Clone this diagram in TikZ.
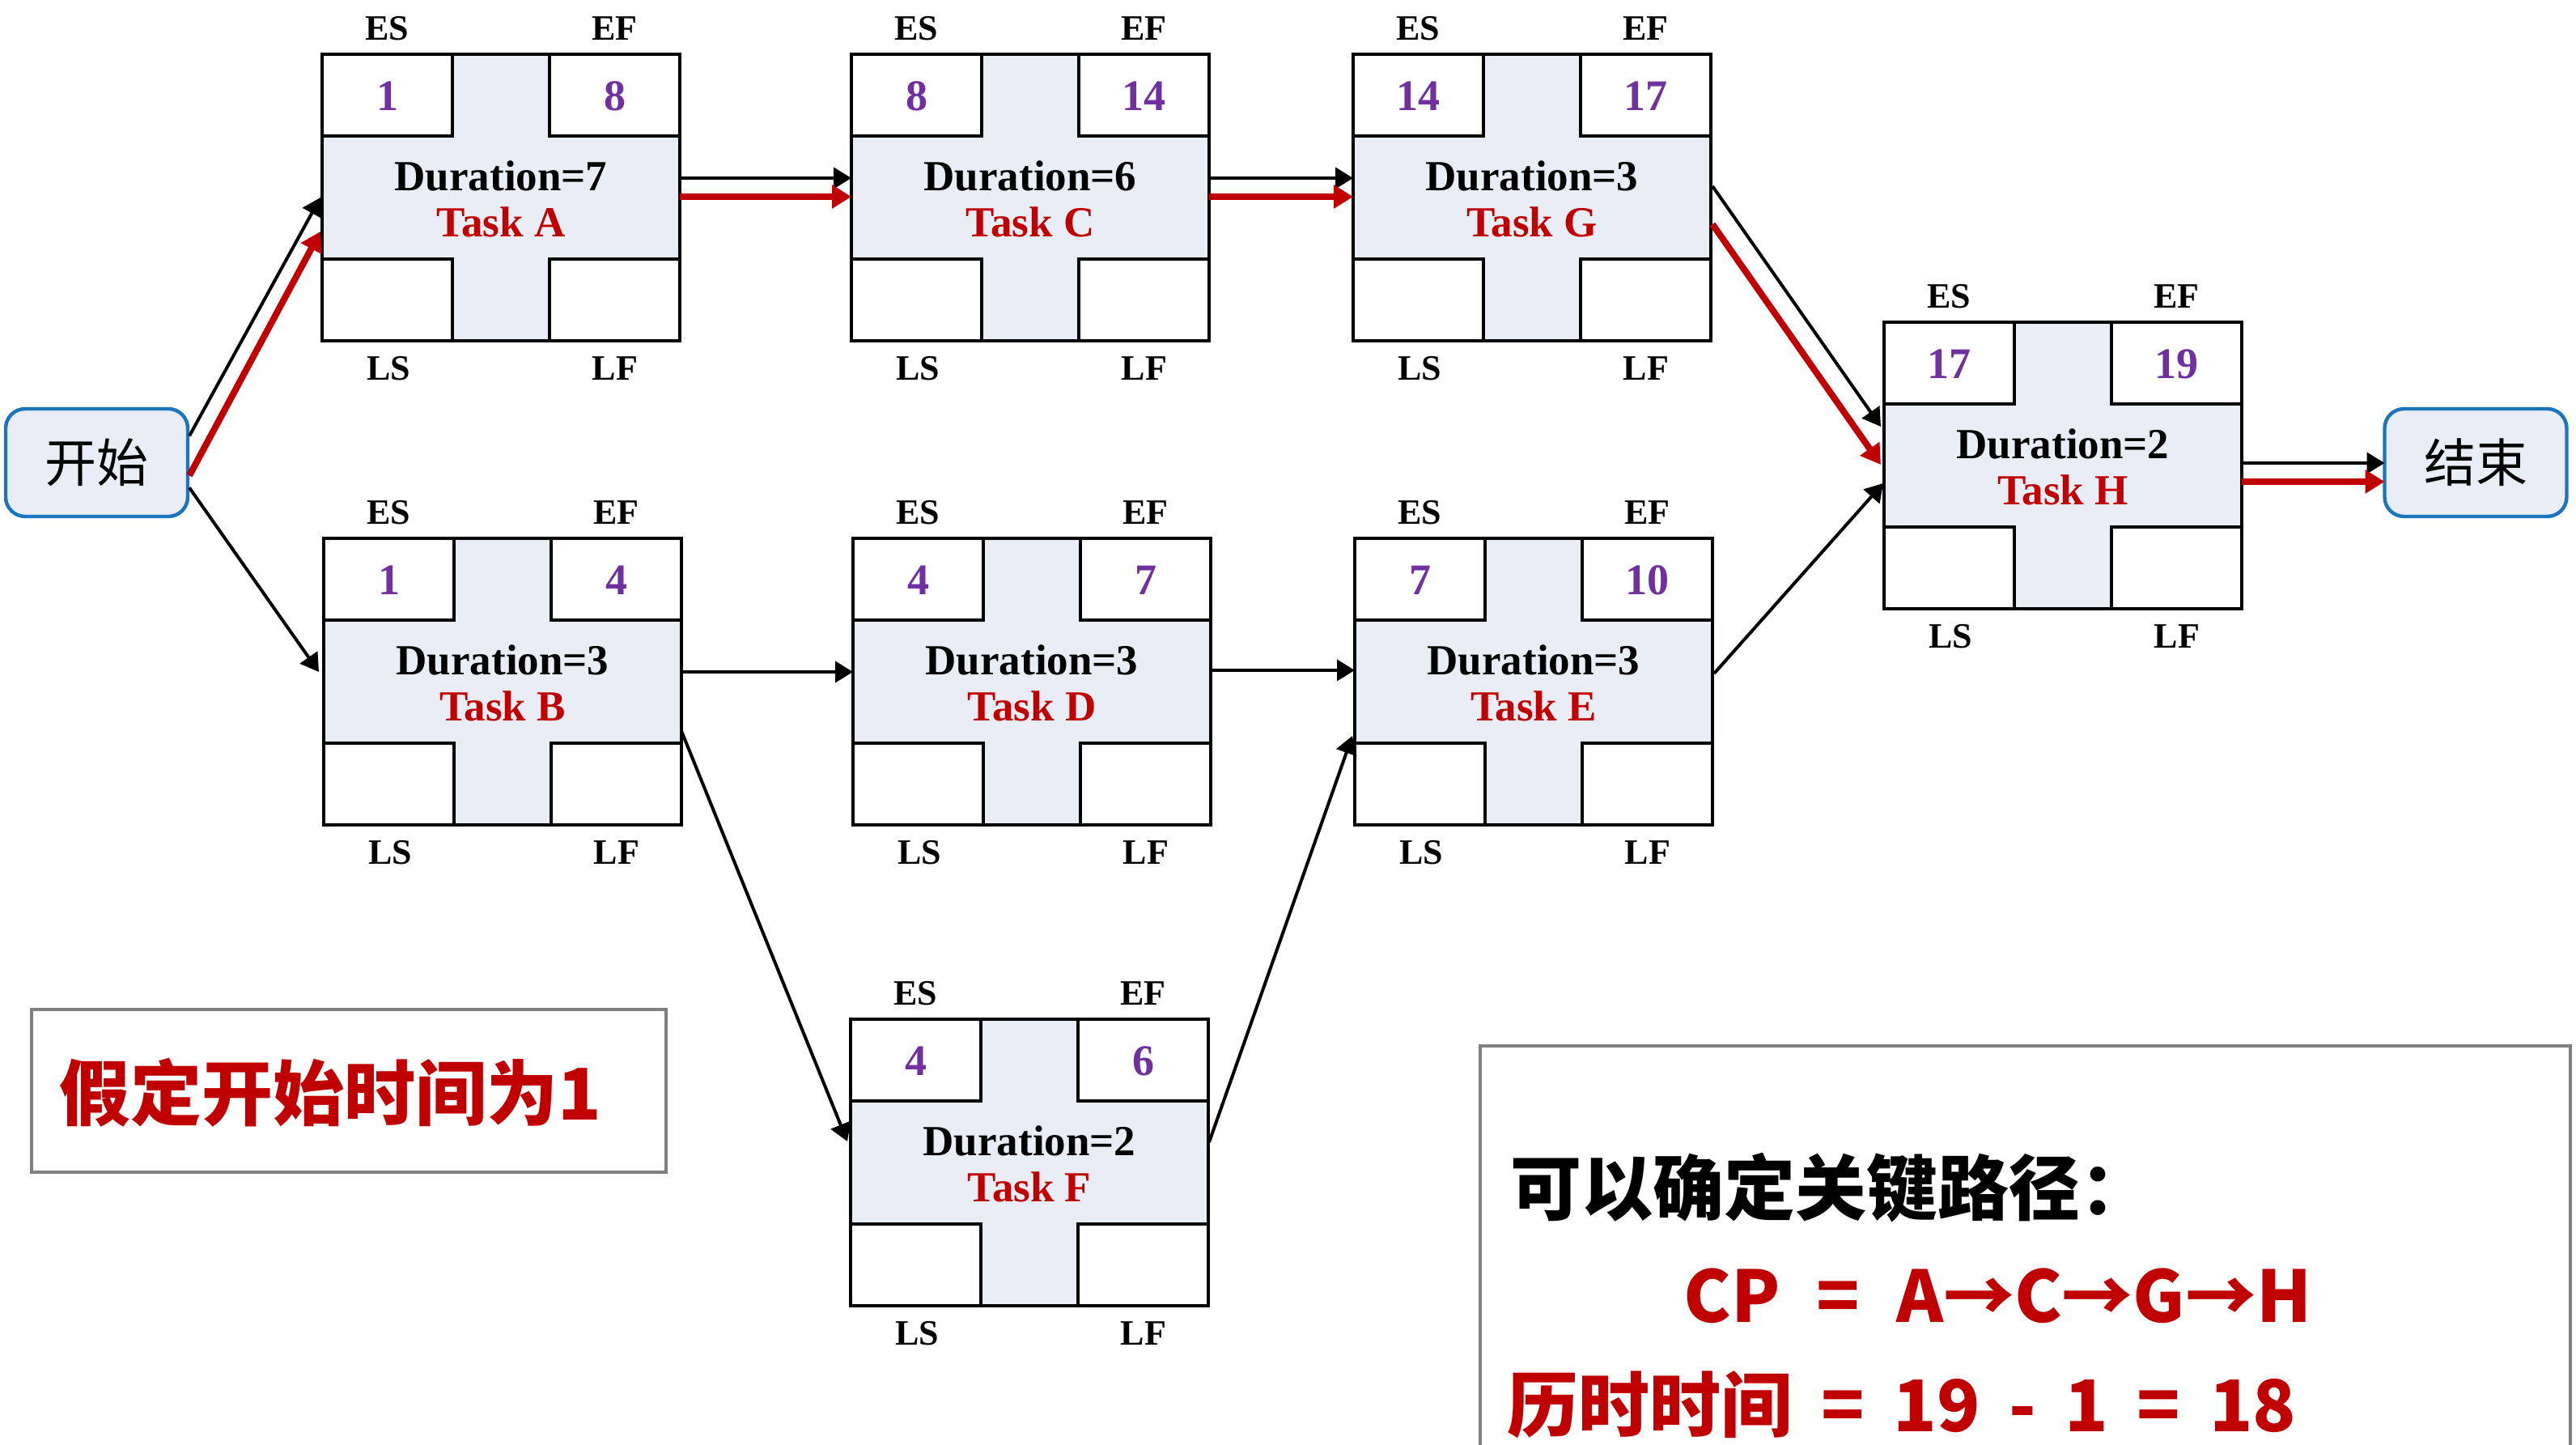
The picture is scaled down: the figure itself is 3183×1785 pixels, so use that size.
\documentclass[tikz,border=0pt]{standalone}
\usepackage{fontspec}
\setmainfont{Liberation Serif}
\newfontfamily\cjk{Noto Sans CJK SC}
\usetikzlibrary{arrows.meta,calc}
\definecolor{purp}{HTML}{7030A0}
\definecolor{cred}{HTML}{C00000}
\definecolor{lightfill}{HTML}{E9EDF5}
\definecolor{nodeblue}{HTML}{1C74BC}
\definecolor{boxgray}{HTML}{808080}
\newcommand{\spA}{\hspace{11.2pt}}
\newcommand{\spB}{\hspace{8.9pt}}
\tikzset{
  taskframe/.style={fill=white, minimum width=110.5pt, minimum height=88.5pt, anchor=north west, inner sep=0pt, outer sep=0pt},
  frameline/.style={draw=black, line width=1.1pt},
  cornerlbl/.style={font=\bfseries\fontsize{11}{11}\selectfont, inner sep=0pt},
  numlbl/.style={font=\bfseries\fontsize{13.5}{13.5}\selectfont, text=purp, inner sep=0pt},
  durlbl/.style={font=\bfseries\fontsize{13.25}{13.25}\selectfont, inner sep=0pt},
  tasklbl/.style={font=\bfseries\fontsize{13.25}{13.25}\selectfont, text=cred, inner sep=0pt},
  endnode/.style={draw=nodeblue, line width=1.1pt, fill=lightfill, rounded corners=6pt, minimum width=56.25pt, minimum height=33.25pt, inner sep=0pt, outer sep=0pt, font=\cjk\fontsize{16}{16}\selectfont},
  blackarrow/.style={draw=black, line width=1pt, -{Triangle[length=5.5pt,width=6.5pt]}},
  redarrow/.style={draw=cred, line width=2pt, -{Triangle[length=6pt,width=7pt]}},
  notebox/.style={draw=boxgray, line width=1pt},
  bigtext/.style={anchor=base west, inner sep=0pt, font=\cjk\bfseries\fontsize{22}{22}\selectfont},
}
% name, x, y, ES, EF, duration, task
\newcommand{\taskbox}[7]{%
  \node[taskframe] (#1) at (#2,#3) {};
  \fill[lightfill] (#2+161,#3) rectangle (#2+281,#3+354);
  \fill[lightfill] (#2,#3+101) rectangle (#2+442,#3+253);
  \draw[frameline] (#2,#3+101) -- (#2+161,#3+101) -- (#2+161,#3);
  \draw[frameline] (#2+442,#3+101) -- (#2+281,#3+101) -- (#2+281,#3);
  \draw[frameline] (#2,#3+253) -- (#2+161,#3+253) -- (#2+161,#3+354);
  \draw[frameline] (#2+442,#3+253) -- (#2+281,#3+253) -- (#2+281,#3+354);
  \draw[frameline] (#1.north west) rectangle (#1.south east);
  \node[cornerlbl] (#1es) at (#2+80.5,#3-32) {ES};
  \node[cornerlbl] (#1ef) at (#2+361.5,#3-32) {EF};
  \node[cornerlbl] (#1ls) at (#2+82,#3+388) {LS};
  \node[cornerlbl] (#1lf) at (#2+362,#3+388) {LF};
  \node[numlbl] (#1esv) at (#2+80.5,#3+52) {#4};
  \node[numlbl] (#1efv) at (#2+361.5,#3+52) {#5};
  \node[durlbl] (#1dur) at (#2+221,#3+150) {Duration=#6};
  \node[tasklbl] (#1task) at (#2+221,#3+207) {Task #7};
}
\begin{document}
\begin{tikzpicture}[x=0.25pt,y=-0.25pt]
\useasboundingbox (0,0) rectangle (3183,1785);
\clip (0,0) rectangle (3183,1785);

\taskbox{A}{398}{67}{1}{8}{7}{A}
\taskbox{C}{1052}{67}{8}{14}{6}{C}
\taskbox{G}{1672}{67}{14}{17}{3}{G}
\taskbox{H}{2328}{398}{17}{19}{2}{H}
\taskbox{B}{400}{665}{1}{4}{3}{B}
\taskbox{D}{1054}{665}{4}{7}{3}{D}
\taskbox{E}{1674}{665}{7}{10}{3}{E}
\taskbox{F}{1051}{1259}{4}{6}{2}{F}

\node[endnode] (start) at (119.5,571.5) {开始};
\node[endnode] (end) at (3059,571.5) {结束};

% connectors
\draw[blackarrow] ($(start.east)+(2,-33)$) -- ($(A.west)+(-2,0)$);
\draw[redarrow] ($(start.east)+(2,16)$) -- ($(A.west)+(-2,42)$);
\draw[blackarrow] ($(start.east)+(2,31)$) -- ($(B.west)+(-6,-12)$);

\draw[blackarrow] ($(A.east)+(0,-24)$) -- ($(C.west)+(0,-24)$);
\draw[redarrow] ($(A.east)+(0,-1)$) -- ($(C.west)+(0,-1)$);
\draw[blackarrow] ($(C.east)+(0,-24)$) -- ($(G.west)+(0,-24)$);
\draw[redarrow] ($(C.east)+(0,-1)$) -- ($(G.west)+(0,-1)$);
\draw[blackarrow] ($(G.east)+(2,-14)$) -- ($(H.west)+(-4,-48)$);
\draw[redarrow] ($(G.east)+(2,33)$) -- ($(H.west)+(-4,-1)$);
\coordinate (hb) at ($(H.east)+(0,-3)$);
\coordinate (hr) at ($(H.east)+(0,20)$);
\draw[blackarrow] (hb) -- (hb -| end.west);
\draw[redarrow] (hr) -- (hr -| end.west);

\draw[blackarrow] ($(B.east)+(0,-12)$) -- ($(D.west)+(0,-12)$);
\draw[blackarrow] ($(D.east)+(0,-14)$) -- ($(E.west)+(0,-14)$);
\draw[blackarrow] ($(E.east)+(2,-10)$) -- ($(H.west)+(-1,22)$);
\draw[blackarrow] ($(B.east)+(0,61)$) -- ($(F.west)+(-4,-26)$);
\draw[blackarrow] ($(F.east)+(1,-25)$) -- ($(E.west)+(-3,67)$);

% note boxes
\draw[notebox] (39,1247) rectangle (823,1448);
\node[bigtext, text=cred] (note1) at (73,1383) {假定开始时间为1};

\draw[notebox] (1829,1800) -- (1829,1292) -- (3176,1292) -- (3176,1800);
\node[bigtext] (cpa) at (1866,1500) {可以确定关键路径：};
\node[bigtext, text=cred] (cpb) at (2080,1633) {CP\spA=\spA A→C→G→H};
\node[bigtext, text=cred] (cpc) at (1862,1768) {历时时间\spB=\spB 19\spB-\spB 1\spB=\spB 18};
\end{tikzpicture}
\end{document}
